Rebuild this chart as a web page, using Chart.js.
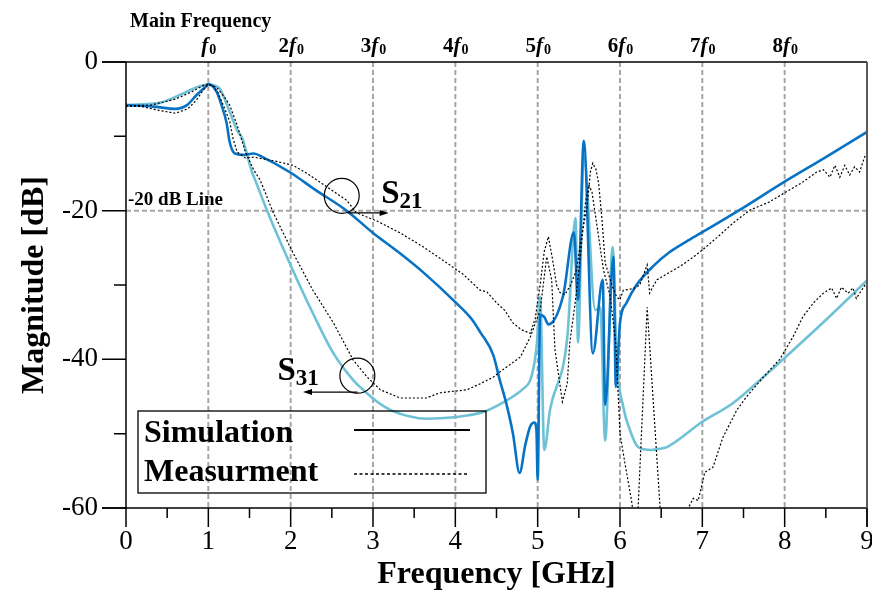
<!DOCTYPE html>
<html>
<head>
<meta charset="utf-8">
<script src="https://cdn.jsdelivr.net/npm/chart.js@4.4.1/dist/chart.umd.min.js"></script>
<style>
  html, body { margin: 0; padding: 0; background: #fff; }
  #wrap { width: 872px; height: 595px; }
</style>
</head>
<body>
<div id="wrap"><canvas id="myChart" width="872" height="595"></canvas></div>
<script>
const SERIF = "'Liberation Serif', 'Times New Roman', serif";

// S21 simulation (dark blue)
const s21SimX = [0, 0.33, 0.6, 0.74, 0.86, 0.96, 1.0, 1.1, 1.16, 1.22, 1.26, 1.32, 1.42, 1.55, 1.66, 2.0, 2.3, 2.68, 3.0, 3.3, 3.6, 4.0, 4.2, 4.3, 4.46, 4.54, 4.62, 4.7, 4.78, 4.85, 4.91, 4.96, 4.985, 5.0, 5.03, 5.08, 5.13, 5.31, 5.44, 5.49, 5.56, 5.67, 5.79, 5.82, 5.92, 5.95, 6.0, 6.08, 6.2, 6.4, 6.6, 6.8, 7.0, 7.44, 8.0, 8.5, 9.0];
const s21SimY = [-5.8, -6.0, -6.3, -5.8, -4.4, -3.4, -3.0, -4.0, -5.8, -8.1, -10.8, -12.3, -12.5, -12.3, -12.8, -14.9, -17.2, -20.0, -23.0, -25.5, -28.2, -32.3, -34.6, -36.3, -39.4, -42.8, -46.0, -50.0, -55.3, -51.5, -49.0, -48.5, -49.5, -56.2, -34.0, -34.3, -35.3, -31.4, -22.9, -32.0, -10.6, -39.2, -29.3, -46.1, -26.2, -43.7, -35.1, -32.4, -30.0, -27.5, -25.6, -24.2, -22.9, -20.0, -16.1, -12.8, -9.4];

// S31 simulation (light blue)
const s31SimX = [0, 0.2, 0.41, 0.66, 0.86, 0.96, 1.0, 1.08, 1.14, 1.26, 1.36, 1.41, 1.53, 1.57, 1.71, 2.01, 2.27, 2.52, 2.76, 2.88, 3.05, 3.21, 3.45, 3.65, 3.98, 4.34, 4.55, 4.7, 4.82, 4.91, 4.96, 4.99, 5.03, 5.08, 5.15, 5.36, 5.46, 5.49, 5.56, 5.7, 5.76, 5.82, 5.91, 5.96, 6.04, 6.12, 6.22, 6.38, 6.5, 6.57, 7.0, 7.37, 7.74, 8.0, 8.5, 9.0];
const s31SimY = [-5.8, -5.7, -5.5, -4.4, -3.4, -3.05, -3.0, -3.2, -3.6, -6.7, -9.4, -10.2, -14.8, -15.9, -19.9, -27.6, -33.8, -39.2, -42.8, -44.1, -45.7, -46.8, -47.7, -48.0, -47.8, -47.1, -46.0, -45.0, -44.0, -42.8, -40.5, -38.0, -31.6, -52.2, -46.8, -37.0, -21.0, -37.7, -12.5, -33.4, -33.0, -50.9, -24.9, -40.0, -46.4, -49.5, -51.8, -52.2, -52.0, -51.8, -48.4, -45.9, -42.4, -39.8, -34.7, -29.4];

// S21 measurement (dotted)
const s21MeasX = [0, 0.2, 0.4, 0.6, 0.75, 0.85, 0.95, 1.0, 1.05, 1.12, 1.2, 1.26, 1.3, 1.35, 1.45, 1.55, 1.8, 2.03, 2.2, 2.44, 2.68, 2.8, 3.05, 3.33, 3.6, 3.8, 3.97, 4.1, 4.3, 4.38, 4.5, 4.6, 4.7, 4.8, 4.91, 4.97, 5.03, 5.08, 5.13, 5.18, 5.23, 5.27, 5.33, 5.4, 5.47, 5.54, 5.6, 5.64, 5.67, 5.71, 5.74, 5.78, 5.82, 5.9, 5.96, 6.0, 6.04, 6.16, 6.24, 6.33, 6.36, 6.4, 6.45, 6.6, 6.73, 6.87, 7.0, 7.2, 7.37, 7.58, 7.8, 8.0, 8.2, 8.39, 8.47, 8.55, 8.61, 8.67, 8.73, 8.79, 8.85, 8.91, 8.98, 9.0];
const s21MeasY = [-5.9, -6.0, -6.5, -6.9, -6.3, -5.2, -3.6, -3.0, -3.1, -4.2, -6.3, -8.0, -10.3, -12.1, -12.9, -12.8, -13.3, -13.9, -15.0, -16.8, -18.6, -20.3, -21.4, -23.0, -24.8, -26.3, -27.6, -28.6, -30.7, -30.9, -32.4, -33.4, -35.1, -36.0, -36.5, -34.5, -30.0, -25.5, -23.5, -26.5, -30.0, -31.0, -31.3, -30.0, -28.0, -23.0, -19.5, -14.8, -13.6, -14.5, -16.3, -21.0, -27.0, -30.0, -31.6, -32.0, -30.7, -30.5, -30.0, -27.3, -31.1, -30.2, -29.3, -28.3, -27.5, -26.4, -25.3, -23.4, -21.7, -19.9, -18.9, -17.6, -16.3, -14.8, -14.5, -15.5, -13.9, -15.5, -13.9, -15.2, -14.1, -14.8, -12.5, -12.3];

// S31 measurement (dotted)
const s31MeasX = [0, 0.3, 0.6, 0.8, 0.95, 1.0, 1.1, 1.2, 1.26, 1.35, 1.45, 1.55, 1.63, 1.79, 2.03, 2.27, 2.52, 2.76, 2.93, 3.09, 3.33, 3.65, 3.81, 4.14, 4.3, 4.46, 4.54, 4.79, 4.91, 5.03, 5.11, 5.17, 5.21, 5.3, 5.36, 5.39, 5.46, 5.52, 5.58, 5.62, 5.66, 5.72, 5.8, 5.88, 5.95, 6.0, 6.06, 6.14, 6.17, 6.2, 6.22, 6.33, 6.49, 6.52, 6.8, 6.83, 6.89, 6.95, 7.03, 7.13, 7.25, 7.42, 7.54, 7.74, 7.94, 8.1, 8.22, 8.35, 8.47, 8.57, 8.63, 8.69, 8.77, 8.83, 8.87, 9.0];
const s31MeasY = [-5.9, -5.8, -5.0, -4.0, -3.1, -3.0, -3.4, -4.8, -5.8, -8.5, -12.1, -14.5, -15.9, -20.3, -25.7, -30.7, -35.1, -40.1, -42.4, -44.1, -45.2, -45.2, -44.5, -44.1, -43.3, -42.4, -41.7, -39.7, -37.0, -33.4, -26.2, -29.3, -38.7, -45.7, -43.2, -37.8, -32.0, -26.0, -19.0, -16.5, -17.5, -22.0, -28.0, -31.5, -38.0, -50.0, -54.0, -59.0, -61.5, -61.5, -60.0, -33.0, -60.5, -63.0, -63.0, -60.0, -58.7, -59.0, -55.2, -54.5, -50.5, -46.8, -45.0, -42.4, -40.0, -37.0, -34.3, -32.4, -31.1, -30.4, -31.8, -30.3, -31.1, -30.4, -31.8, -29.6];

// top harmonic markers
const harmonicX = [1, 2, 3, 4, 5, 6, 7, 8];
const harmonicLabels = ['', '2', '3', '4', '5', '6', '7', '8'];

const toPoints = (xs, ys) => xs.map((x, i) => ({ x: x, y: ys[i] }));

function drawSub(ctx, x, base, main, sub, mainFont, subFont, drop, align) {
  ctx.font = mainFont;
  const w1 = ctx.measureText(main).width;
  ctx.font = subFont;
  const w2 = ctx.measureText(sub).width;
  let sx = x;
  if (align === 'center') sx = x - (w1 + w2) / 2;
  ctx.textAlign = 'left';
  ctx.textBaseline = 'alphabetic';
  ctx.font = mainFont;
  ctx.fillText(main, sx, base);
  ctx.font = subFont;
  ctx.fillText(sub, sx + w1, base + drop);
}

function arrow(ctx, x1, y1, x2, y2) {
  const dir = Math.sign(x2 - x1);
  ctx.beginPath();
  ctx.moveTo(x1, y1);
  ctx.lineTo(x2 - dir * 6, y2);
  ctx.stroke();
  ctx.beginPath();
  ctx.moveTo(x2, y2);
  ctx.lineTo(x2 - dir * 9, y2 - 3);
  ctx.lineTo(x2 - dir * 9, y2 + 3);
  ctx.closePath();
  ctx.fill();
}

const decor = {
  id: 'decor',
  beforeDatasetsDraw(chart) {
    const { ctx, chartArea: a, scales: { x, y } } = chart;
    ctx.save();
    ctx.strokeStyle = '#a6a6a6';
    ctx.lineWidth = 2;
    ctx.setLineDash([5, 3]);
    harmonicX.forEach((v) => {
      const px = x.getPixelForValue(v);
      ctx.beginPath();
      ctx.moveTo(px, a.top);
      ctx.lineTo(px, a.bottom);
      ctx.stroke();
    });
    const py = y.getPixelForValue(-20);
    ctx.beginPath();
    ctx.moveTo(a.left, py);
    ctx.lineTo(a.right, py);
    ctx.stroke();
    ctx.restore();
  },
  afterDraw(chart) {
    const { ctx, chartArea: a, scales: { x, y } } = chart;
    ctx.save();
    ctx.setLineDash([]);
    ctx.fillStyle = '#000';
    ctx.strokeStyle = '#000';

    // frame
    ctx.lineWidth = 1.5;
    ctx.beginPath();
    ctx.moveTo(a.left - 24, a.top); ctx.lineTo(a.right, a.top);
    ctx.moveTo(a.left - 24, a.bottom); ctx.lineTo(a.right, a.bottom);
    ctx.moveTo(a.left, a.top); ctx.lineTo(a.left, a.bottom);
    ctx.stroke();
    ctx.strokeStyle = '#5a5a5a';
    ctx.lineWidth = 2;
    ctx.beginPath();
    ctx.moveTo(a.right, a.top); ctx.lineTo(a.right, a.bottom + 19);
    ctx.stroke();

    // ticks
    ctx.strokeStyle = '#000';
    ctx.lineWidth = 1.5;
    ctx.beginPath();
    for (let v = -60; v <= 0; v += 10) {
      const py = y.getPixelForValue(v);
      const len = v % 20 === 0 ? 24 : 12;
      ctx.moveTo(a.left - len, py); ctx.lineTo(a.left, py);
    }
    for (let v = 0; v <= 9; v += 0.5) {
      const px = x.getPixelForValue(v);
      const len = Number.isInteger(v) ? 19 : 10;
      ctx.moveTo(px, a.bottom); ctx.lineTo(px, a.bottom + len);
    }
    ctx.stroke();

    // top labels
    ctx.font = `bold 20px ${SERIF}`;
    ctx.textAlign = 'left';
    ctx.fillText('Main Frequency', a.left + 4, 27);
    harmonicX.forEach((v, i) => {
      const px = x.getPixelForValue(v);
      ctx.font = `bold 21px ${SERIF}`;
      const w0 = ctx.measureText(harmonicLabels[i]).width;
      ctx.font = `bold italic 21px ${SERIF}`;
      const w1 = ctx.measureText('f').width;
      ctx.font = `bold 14px ${SERIF}`;
      const w2 = ctx.measureText('0').width;
      let sx = px - (w0 + w1 + w2) / 2;
      ctx.font = `bold 21px ${SERIF}`;
      ctx.fillText(harmonicLabels[i], sx, 52);
      sx += w0;
      ctx.font = `bold italic 21px ${SERIF}`;
      ctx.fillText('f', sx, 52);
      sx += w1 + 1;
      ctx.font = `bold 14px ${SERIF}`;
      ctx.fillText('0', sx, 54);
    });

    // -20 dB line label
    ctx.font = `bold 19px ${SERIF}`;
    ctx.fillText('-20 dB Line', a.left + 2, y.getPixelForValue(-20) - 6);

    // S21 annotation
    ctx.lineWidth = 1.2;
    ctx.beginPath();
    ctx.arc(x.getPixelForValue(2.62), y.getPixelForValue(-18.0), 17.5, 0, Math.PI * 2);
    ctx.stroke();
    arrow(ctx, x.getPixelForValue(2.69), y.getPixelForValue(-20.3), x.getPixelForValue(3.19), y.getPixelForValue(-20.3));
    drawSub(ctx, x.getPixelForValue(3.1), y.getPixelForValue(-19.0), 'S', '21',
      `bold 33px ${SERIF}`, `bold 23px ${SERIF}`, 5, 'left');

    // S31 annotation
    ctx.beginPath();
    ctx.arc(x.getPixelForValue(2.81), y.getPixelForValue(-42.2), 17.5, 0, Math.PI * 2);
    ctx.stroke();
    arrow(ctx, x.getPixelForValue(2.81), y.getPixelForValue(-44.4), x.getPixelForValue(2.15), y.getPixelForValue(-44.4));
    drawSub(ctx, x.getPixelForValue(1.84), y.getPixelForValue(-42.8), 'S', '31',
      `bold 33px ${SERIF}`, `bold 23px ${SERIF}`, 5, 'left');

    // legend box
    const lx = a.left + 12, ly = a.bottom - 97;
    ctx.lineWidth = 1.3;
    ctx.strokeRect(lx, ly, 348, 82);
    ctx.font = `bold 32px ${SERIF}`;
    ctx.fillText('Simulation', lx + 6, ly + 31);
    ctx.fillText('Measurment', lx + 6, ly + 70);
    ctx.lineWidth = 2.2;
    ctx.beginPath();
    ctx.moveTo(lx + 216, ly + 19); ctx.lineTo(lx + 332, ly + 19);
    ctx.stroke();
    ctx.lineWidth = 1.4;
    ctx.setLineDash([3, 2.5]);
    ctx.beginPath();
    ctx.moveTo(lx + 216, ly + 63); ctx.lineTo(lx + 329, ly + 63);
    ctx.stroke();
    ctx.restore();
  }
};

const ctx = document.getElementById('myChart');
const chart = new Chart(ctx, {
  type: 'line',
  data: {
    datasets: [
      {
        label: 'S21 Measurement',
        data: toPoints(s21MeasX, s21MeasY),
        borderColor: '#000',
        borderWidth: 1.2,
        borderDash: [2, 2],
        pointRadius: 0,
        tension: 0,
      },
      {
        label: 'S31 Measurement',
        data: toPoints(s31MeasX, s31MeasY),
        borderColor: '#000',
        borderWidth: 1.2,
        borderDash: [2, 2],
        pointRadius: 0,
        tension: 0,
      },
      {
        label: 'S21 Simulation',
        data: toPoints(s21SimX, s21SimY),
        borderColor: '#0872c4',
        borderWidth: 2.6,
        pointRadius: 0,
        cubicInterpolationMode: 'monotone',
      },
      {
        label: 'S31 Simulation',
        data: toPoints(s31SimX, s31SimY),
        borderColor: '#6fc2d6',
        borderWidth: 2.6,
        pointRadius: 0,
        cubicInterpolationMode: 'monotone',
      },
    ],
  },
  options: {
    responsive: false,
    animation: false,
    layout: { padding: { top: 62, right: 5, left: 0, bottom: 0 } },
    plugins: {
      legend: { display: false },
      tooltip: { enabled: false },
    },
    scales: {
      x: {
        type: 'linear',
        min: 0,
        max: 9,
        ticks: {
          stepSize: 1,
          color: '#000',
          font: { family: SERIF, size: 27 },
          padding: 18,
          maxRotation: 0,
          autoSkip: false,
        },
        grid: { display: false, drawTicks: false },
        border: { display: false },
        title: {
          display: true,
          text: 'Frequency [GHz]',
          color: '#000',
          font: { family: SERIF, size: 32, weight: 'bold' },
          padding: { top: 0, bottom: 1 },
        },
        afterFit(axis) {
          axis.height = 87;
          axis.paddingLeft = 0;
          axis.paddingRight = 0;
        },
      },
      y: {
        type: 'linear',
        min: -60,
        max: 0,
        ticks: {
          stepSize: 20,
          color: '#000',
          font: { family: SERIF, size: 27 },
          padding: 28,
        },
        grid: { display: false, drawTicks: false },
        border: { display: false },
        title: {
          display: true,
          text: 'Magnitude [dB]',
          color: '#000',
          font: { family: SERIF, size: 32, weight: 'bold' },
          padding: { top: 16, bottom: 0 },
        },
        afterFit(axis) {
          axis.width = 126;
          axis.paddingTop = 0;
          axis.paddingBottom = 0;
        },
      },
    },
  },
  plugins: [decor],
});
</script>
</body>
</html>
